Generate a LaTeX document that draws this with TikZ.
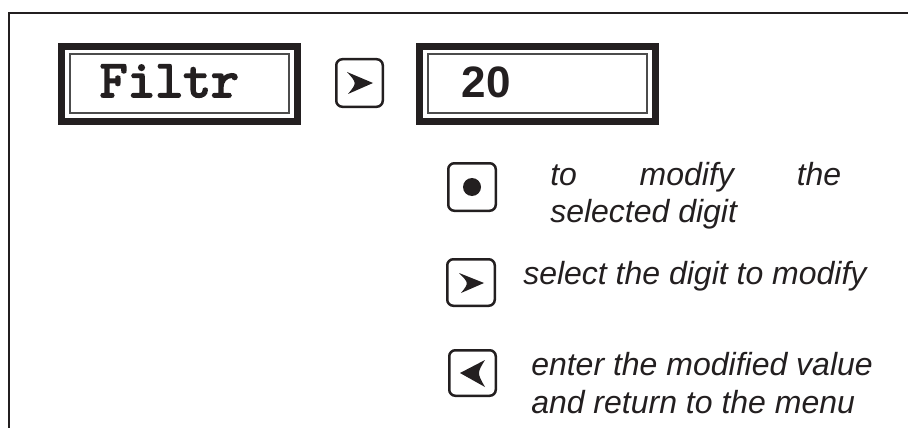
\documentclass[tikz,border=0pt]{standalone}
\usepackage{fontspec}
\newfontfamily\arialfont{Liberation Sans}
\newfontfamily\courierfont[FakeBold=3.2]{lmmono10-regular.otf}
\newlength{\du}
\setlength{\du}{1pt}
\begin{document}
\begin{tikzpicture}
\pgftransformxscale{1.000000}
\pgftransformyscale{-1.000000}
\useasboundingbox (0\du,0\du) rectangle (908\du,428\du);
\definecolor{dialinecolor}{rgb}{0.137255, 0.121569, 0.125490}
\pgfsetstrokecolor{dialinecolor}
\definecolor{dialinecolor}{rgb}{1.000000, 1.000000, 1.000000}
\pgfsetfillcolor{dialinecolor}
% frame
\pgfsetlinewidth{2.000000\du}
\pgfsetdash{}{0pt}
\pgfsetmiterjoin
\definecolor{dialinecolor}{rgb}{0.137255, 0.121569, 0.125490}
\pgfsetstrokecolor{dialinecolor}
\draw (9.000000\du,428.000000\du)--(9.000000\du,13.000000\du)--(908.000000\du,13.000000\du);
% display boxes
\pgfsetlinewidth{7.000000\du}
\draw (61.500000\du,46.500000\du)--(61.500000\du,121.500000\du)--(297.500000\du,121.500000\du)--(297.500000\du,46.500000\du)--cycle;
\draw (419.500000\du,46.500000\du)--(419.500000\du,121.500000\du)--(655.500000\du,121.500000\du)--(655.500000\du,46.500000\du)--cycle;
\pgfsetlinewidth{1.500000\du}
\definecolor{dialinecolor}{rgb}{0.300000, 0.300000, 0.300000}
\pgfsetstrokecolor{dialinecolor}
\draw (70.000000\du,54.000000\du)--(70.000000\du,113.000000\du)--(289.000000\du,113.000000\du)--(289.000000\du,54.000000\du)--cycle;
\draw (428.000000\du,54.000000\du)--(428.000000\du,113.000000\du)--(647.000000\du,113.000000\du)--(647.000000\du,54.000000\du)--cycle;
% setfont left to latex
\definecolor{dialinecolor}{rgb}{0.137255, 0.121569, 0.125490}
\pgfsetstrokecolor{dialinecolor}
\node[anchor=base west,inner sep=0pt,text=dialinecolor] (filtrlabel) at (99.000000\du,97.000000\du){\fontsize{53}{60}\selectfont\courierfont Filtr};
% setfont left to latex
\node[anchor=base west,inner sep=0pt,text=dialinecolor] (valuelabel) at (461.000000\du,98.000000\du){\fontsize{44}{52}\selectfont\arialfont\bfseries 20};
% keys
\pgfsetlinewidth{2.500000\du}
\draw[rounded corners=6\du] (336.250000\du,59.250000\du) rectangle (382.750000\du,106.750000\du);
\draw[rounded corners=6\du] (448.250000\du,163.250000\du) rectangle (495.750000\du,210.750000\du);
\draw[rounded corners=6\du] (447.250000\du,259.250000\du) rectangle (494.750000\du,305.750000\du);
\draw[rounded corners=6\du] (449.250000\du,350.250000\du) rectangle (495.750000\du,395.750000\du);
\definecolor{dialinecolor}{rgb}{0.137255, 0.121569, 0.125490}
\pgfsetfillcolor{dialinecolor}
\fill (373.000000\du,83.000000\du)--(347.000000\du,72.000000\du) .. controls (357.000000\du,83.000000\du) .. (348.000000\du,94.000000\du)--cycle;
\fill (472.000000\du,187.000000\du) circle (9.000000\du);
\fill (484.000000\du,283.000000\du)--(459.000000\du,273.000000\du) .. controls (469.000000\du,283.000000\du) .. (461.000000\du,293.000000\du)--cycle;
\fill (460.000000\du,373.000000\du)--(485.000000\du,360.000000\du) .. controls (477.000000\du,373.000000\du) .. (485.000000\du,387.000000\du)--cycle;
% setfont left to latex
\node[anchor=base west,inner sep=0pt,text=dialinecolor] (modifyone) at (549.000000\du,185.000000\du){\fontsize{32}{38}\selectfont\arialfont\itshape\makebox[291\du][s]{to modify the}};
\node[anchor=base west,inner sep=0pt,text=dialinecolor] (modifytwo) at (549.000000\du,222.000000\du){\fontsize{32}{38}\selectfont\arialfont\itshape selected digit};
% setfont left to latex
\node[anchor=base west,inner sep=0pt,text=dialinecolor] (selectdigit) at (522.000000\du,284.000000\du){\fontsize{32}{38}\selectfont\arialfont\itshape select the digit to modify};
% setfont left to latex
\node[anchor=base west,inner sep=0pt,text=dialinecolor] (enterone) at (530.000000\du,375.000000\du){\fontsize{32}{38}\selectfont\arialfont\itshape enter the modified value};
\node[anchor=base west,inner sep=0pt,text=dialinecolor] (entertwo) at (530.000000\du,413.000000\du){\fontsize{32}{38}\selectfont\arialfont\itshape and return to the menu};
\end{tikzpicture}
\end{document}
